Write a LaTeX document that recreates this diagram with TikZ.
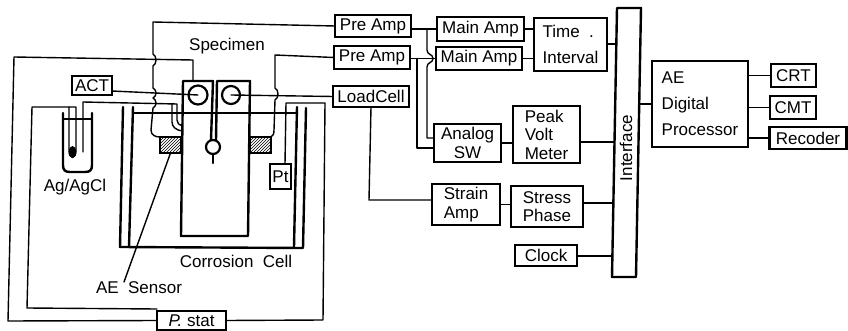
\documentclass[tikz,border=0pt]{standalone}
\usepackage{fontspec}
\setmainfont{Liberation Sans}
\usetikzlibrary{patterns}
\tikzset{
  wire/.style={line width=1.4pt,line join=round,line cap=round},
  heavy/.style={line width=2.4pt,line join=round,line cap=round},
  lab/.style={font=\fontsize{17}{18.5}\selectfont,inner sep=0pt,outer sep=0pt},
  box/.style={draw,line width=2.2pt,lab,minimum width=#1,align=center},
  box/.default=40pt,
  tall/.style={font=\fontsize{17}{26}\selectfont,align=left},
  sensor/.style={draw,line width=2pt,pattern=north east lines,inner sep=0pt,outer sep=0pt,minimum width=21pt,minimum height=16pt},
  ring/.style={draw,circle,line width=2.2pt,inner sep=0pt,outer sep=0pt,minimum size=#1}
}
\begin{document}
\begin{tikzpicture}[x=1pt,y=-1pt]
\useasboundingbox (0,0) rectangle (848,331);
% boxes
\node[box=76pt,minimum height=22pt] (pre1) at (373,26) {Pre Amp};
\node[box=76pt,minimum height=23pt] (pre2) at (372,57.5) {Pre Amp};
\node[box=76pt,minimum height=21pt] (load) at (371,96.5) {LoadCell};
\node[box=87pt,minimum height=24pt] (main1) at (480.5,29) {Main Amp};
\node[box=86pt,minimum height=23pt] (main2) at (479,58.5) {Main Amp};
\node[box=73pt,minimum height=53pt,tall] (time) at (570.5,44.5) {Time \ .\\Interval};
\node[box=67pt,minimum height=38pt] (analog) at (467.5,143) {Analog\\SW};
\node[box=67pt,minimum height=57pt,align=left] (peak) at (546.5,134.5) {Peak\\Volt\\Meter};
\node[box=68pt,minimum height=41pt,align=left] (strain) at (466,204.5) {Strain\\Amp};
\node[box=72pt,minimum height=41pt,align=left] (stress) at (547,206.5) {Stress\\Phase};
\node[box=62pt,minimum height=21pt] (clock) at (546,255.5) {Clock};
\node[box=96pt,minimum height=86pt,tall] (ae) at (700,104) {AE\\Digital\\Processor};
\node[box=45pt,minimum height=23pt] (crt) at (793.5,75.5) {CRT};
\node[box=46pt,minimum height=23pt] (cmt) at (793,107.5) {CMT};
\node[box=77pt,minimum height=22pt] (rec) at (808,138) {Recoder};
\node[box=40pt,minimum height=19pt] (act) at (92,85.5) {ACT};
\node[box=69pt,minimum height=19pt] (pstat) at (191.5,320.5) {\itshape P.\ \upshape stat};
\node[box=21pt,minimum height=25pt] (pt) at (280.5,176.5) {Pt};
% interface bar
\draw[heavy] (617,277) -- (612,277) -- (617,8) -- (641,8) -- (636,277) -- cycle;
\node[lab,rotate=90] (iface) at (626,148) {Interface};
\coordinate (ifT) at (616,44);
\coordinate (ifP) at (614.5,142);
\coordinate (ifS) at (613.5,203);
\coordinate (ifC) at (612.5,256);
\coordinate (ifA) at (638.5,104);
% labels
\node[lab] (spec) at (227,46) {Specimen};
\node[lab] (agcl) at (75,187) {Ag/AgCl};
\node[lab] (cc) at (236,261) {Corrosion\ \ Cell};
\node[lab] (aes) at (139,288) {AE\ \ Sensor};
% right-hand connectors
\draw[wire] (main1.east) -- (main1.east -| time.west);
\draw[wire] (main2.east) -- (main2.east -| time.west);
\draw[wire] (time.east |- ifT) -- (ifT);
\draw[wire] (peak.east |- ifP) -- (ifP);
\draw[wire] (stress.east |- ifS) -- (ifS);
\draw[wire] (clock.east |- ifC) -- (ifC);
\draw[wire] (analog.east) -- (analog.east -| peak.west);
\draw[wire] (strain.east) -- (strain.east -| stress.west);
\draw[wire] (ifA) -- (ae.west);
\draw[wire] (ae.east |- crt.west) -- (crt.west);
\draw[wire] (ae.east |- cmt.west) -- (cmt.west);
\draw[wire] (ae.east |- rec.west) -- (rec.west);
\draw[wire] (pre1.east |- main1.west) -- (main1.west);
\draw[wire] (pre2.east |- main2.west) -- (main2.west);
\coordinate (j1) at (427,29);
\coordinate (j2) at (417,58.5);
\draw[wire] (j1) -- (427,50) .. controls (427,55) and (433,54) .. (433,58.5) .. controls (433,63) and (427,62) .. (427,67) -- (427,138) -- (analog.west |- 0,138);
\draw[wire] (j2) -- (417,148) -- (analog.west |- 0,148);
\draw[wire] (load.south) -- (369,200) -- (strain.west |- 0,200);
% cell
\draw[heavy] (123,107) -- (120,247) -- (303,248) -- (306,108);
\draw[heavy] (133,107) -- (129,247);
\draw[heavy] (297,107) -- (294,247);
\draw[heavy] (133,113) -- (297,113);
% specimen
\draw[heavy] (211,140) -- (213,81) -- (183,81) -- (181,236) -- (248,236) -- (250,81) -- (217,81) -- (216,140);
\node[ring=19pt,fill=white] (cl) at (198,95) {};
\node[ring=18pt,fill=white] (cr) at (231,95) {};
\node[ring=14pt,fill=white] (ball) at (213,147) {};
\draw[heavy] (ball.south) -- (213,163);
% sensors
\node[sensor] (sl) at (170.5,145) {};
\node[sensor] (sr) at (260.5,145) {};
\coordinate (cltop) at (193,81);
% leader
\draw[wire] (sl.south) -- ([xshift=-15pt]aes.north);
% reference electrode
\draw[heavy] (63,113) -- (63,165) .. controls (63,170) and (65,172) .. (70,172) -- (85,172) .. controls (90,172) and (92,170) .. (92,165) -- (92,113);
\draw[wire] (63,119) -- (92,119);
\coordinate (refL) at (69,107);
\coordinate (refR) at (76,107);
\draw[wire] (refL) -- (69,150) .. controls (69,160) and (76,160) .. (76,150) -- (refR) -- cycle;
\fill (72.5,152) ellipse (3.8pt and 6pt);
% potentiostat wiring
\draw[wire] (pstat.west) -- (8,321) -- (14,57) -- (193,60) -- (cltop);
\coordinate (pstatA) at (157,309);
\draw[wire] (pstatA) -- (27,308) -- (32,107) -- (refL);
\draw[wire] (pstat.east) -- (323,320) -- (325,103) -- (286,103) -- (285,164);
% working electrode wire
\draw[wire] (83,152) -- (83,102) -- (177,104) -- (177,120) .. controls (177,123) and (179,125) .. (182,126);
\draw[wire] (172,104) -- (172,122) .. controls (172,127) and (176,130) .. (182,131);
% ACT and load cell signals
\draw[wire] (act.east |- 0,91) -- (cl.center);
\draw[wire] (cr.center) -- (load.west);
% pre-amp wires with hops
\draw[wire] (pre1.west) -- (153,22) -- (153,54) .. controls (157,56) and (157,64) .. (153,66) -- (153,88)
  .. controls (157,90) and (157,96) .. (153,98) .. controls (157,100) and (157,106) .. (153,108)
  -- (151,130) .. controls (151,135) and (155,137) .. (sl.north west);
\draw[wire] (pre2.west) -- (275,55) -- (275,88) .. controls (279,90) and (279,98) .. (275,100)
  -- (274,130) .. controls (274,134) and (273,136) .. (sr.north east);
\end{tikzpicture}
\end{document}
